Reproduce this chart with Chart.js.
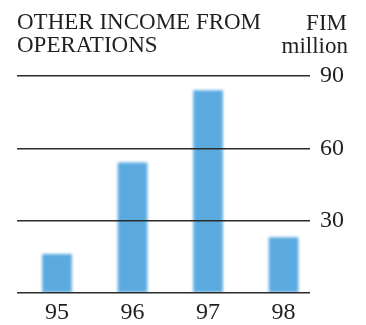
<!DOCTYPE html>
<html lang="en">
<head>
  <meta charset="UTF-8" />
  <title>Other income from operations</title>
  <script src="https://cdn.jsdelivr.net/npm/chart.js@4.4.1"></script>
  <style>
    html, body { margin: 0; padding: 0; background: #fff; }
    canvas { display: block; }
  </style>
</head>
<body>
<canvas id="myChart" width="366" height="325"></canvas>

<script>
  // FIM million, by year
  var years  = [95, 96, 97, 98];
  var income = [16, 54, 84, 23];
  var yTicks = [0, 30, 60, 90];
  var titleLines = ['OTHER INCOME FROM', 'OPERATIONS'];
  var unitLines  = ['FIM', 'million'];

  var INK   = '#231f20';
  var SERIF = "'Liberation Serif', 'DejaVu Serif', serif";

  var points = [];
  for (var i = 0; i < years.length; i++) points.push({ x: years[i], y: income[i] });

  // soft edges on the bars only
  var softBars = {
    id: 'softBars',
    beforeDatasetsDraw: function(c){ c.ctx.save(); c.ctx.filter = 'blur(1.6px)'; },
    afterDatasetsDraw:  function(c){ c.ctx.restore(); }
  };

  // "FIM / million" in the top right corner
  var unitLabel = {
    id: 'unitLabel',
    afterDraw: function(c){
      var ctx = c.ctx;
      ctx.save();
      ctx.font = '23px ' + SERIF;
      ctx.fillStyle = INK;
      ctx.textAlign = 'right';
      ctx.textBaseline = 'alphabetic';
      ctx.fillText(unitLines[0], 347, 30);
      ctx.fillText(unitLines[1], 348, 53);
      ctx.restore();
    }
  };

  new Chart(document.getElementById('myChart'), {
    type: 'bar',
    data: {
      datasets: [{
        data: points,
        backgroundColor: '#5aaae0',
        barThickness: 29
      }]
    },
    options: {
      responsive: false,
      animation: false,
      layout: { padding: { left: 17, right: 0, top: 0, bottom: 0 } },
      plugins: {
        legend: { display: false },
        tooltip: { enabled: false },
        title: {
          display: true,
          text: titleLines,
          align: 'start',
          color: INK,
          font: { family: SERIF, size: 23, weight: 'normal', lineHeight: 1.0 },
          padding: { top: 11, bottom: 19 }
        }
      },
      scales: {
        x: {
          type: 'linear',
          offset: false,
          min: 94.47,
          max: 98.35,
          afterBuildTicks: function(s){ s.ticks = years.map(function(v){ return { value: v }; }); },
          afterFit: function(s){ s.height = 32; },
          grid: { display: false },
          border: { display: false },
          ticks: {
            color: INK,
            padding: -3,
            font: { family: SERIF, size: 24 },
            callback: function(v){ return String(v); }
          }
        },
        y: {
          position: 'right',
          min: 0,
          max: 90,
          afterBuildTicks: function(s){ s.ticks = yTicks.map(function(v){ return { value: v }; }); },
          afterFit: function(s){ s.width = 56; },
          border: { display: false },
          grid: { color: '#2b2b2b', lineWidth: 1.5, drawTicks: false, z: 1 },
          ticks: {
            color: INK,
            padding: 10,
            font: { family: SERIF, size: 24 },
            callback: function(v){ return v === 0 ? '' : String(v); }
          }
        }
      }
    },
    plugins: [softBars, unitLabel]
  });
</script>
</body>
</html>
